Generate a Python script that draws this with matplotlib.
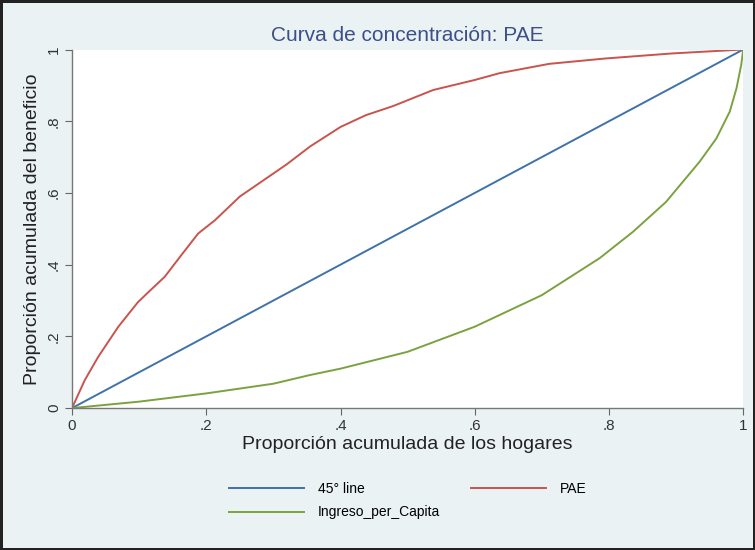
import matplotlib.pyplot as plt

# Datos (curvas de concentración)
linea45_x = [0, 1]
linea45_y = [0, 1]

pae_x = [0, 0.019, 0.039, 0.069, 0.098, 0.113, 0.138, 0.163, 0.188, 0.213,
         0.25, 0.32, 0.355, 0.4, 0.438, 0.478, 0.538, 0.6, 0.637, 0.711,
         0.795, 0.894, 1]
pae_y = [0, 0.078, 0.143, 0.227, 0.295, 0.322, 0.366, 0.427, 0.487, 0.524,
         0.59, 0.68, 0.73, 0.784, 0.817, 0.842, 0.887, 0.915, 0.934, 0.96,
         0.975, 0.989, 1]

ingreso_x = [0, 0.1, 0.2, 0.3, 0.354, 0.4, 0.5, 0.6, 0.7, 0.786, 0.836, 0.885,
             0.935, 0.96, 0.98, 0.99, 0.997, 1]
ingreso_y = [0, 0.018, 0.041, 0.068, 0.092, 0.11, 0.157, 0.227, 0.315, 0.418,
             0.492, 0.575, 0.687, 0.752, 0.827, 0.892, 0.957, 1]

ticks = [0, 0.2, 0.4, 0.6, 0.8, 1]
tick_labels = ["0", ".2", ".4", ".6", ".8", "1"]

plt.rcParams['font.family'] = ['Liberation Sans', 'DejaVu Sans']

bg = '#eaf2f4'
fig = plt.figure(figsize=(7.55, 5.5), dpi=100, facecolor=bg)
fig.patch.set_edgecolor('#222222')
fig.patch.set_linewidth(2.5)
ax = fig.add_axes([0.0954, 0.258, 0.889, 0.652])
ax.set_facecolor('white')

l1, = ax.plot(linea45_x, linea45_y, color='#3f72a8', lw=1.4, label='45° line')
l2, = ax.plot(pae_x, pae_y, color='#c9534d', lw=1.4, label='PAE')
l3, = ax.plot(ingreso_x, ingreso_y, color='#7ba23f', lw=1.4, label='Ingreso_per_Capita')

ax.set_xlim(0, 1)
ax.set_ylim(0, 1)
ax.set_xticks(ticks)
ax.set_xticklabels(tick_labels)
ax.set_yticks(ticks)
ax.set_yticklabels(tick_labels, rotation=90, va='center')
ax.tick_params(direction='out', length=5, color='#666666', labelsize=11,
               labelcolor='#333333', pad=3)
for s in ['top', 'right']:
    ax.spines[s].set_visible(False)
for s in ['left', 'bottom']:
    ax.spines[s].set_color('#777777')
    ax.spines[s].set_linewidth(1.0)

ax.set_title("Curva de concentración: PAE", color='#3d4f8a', fontsize=15, pad=6)
ax.set_xlabel("Proporción acumulada de los hogares", fontsize=14, color='#222222', labelpad=2)
ax.set_ylabel("Proporción acumulada del beneficio", fontsize=14, color='#222222', labelpad=4)

fig.legend(handles=[l1, l3, l2], ncol=2, loc='center', bbox_to_anchor=(0.54, 0.09),
           frameon=False, fontsize=10, handlelength=5.4, columnspacing=2.2,
           handletextpad=1.0, labelspacing=0.7)

fig.savefig('out.png', dpi=100, facecolor=bg, edgecolor='#222222')
